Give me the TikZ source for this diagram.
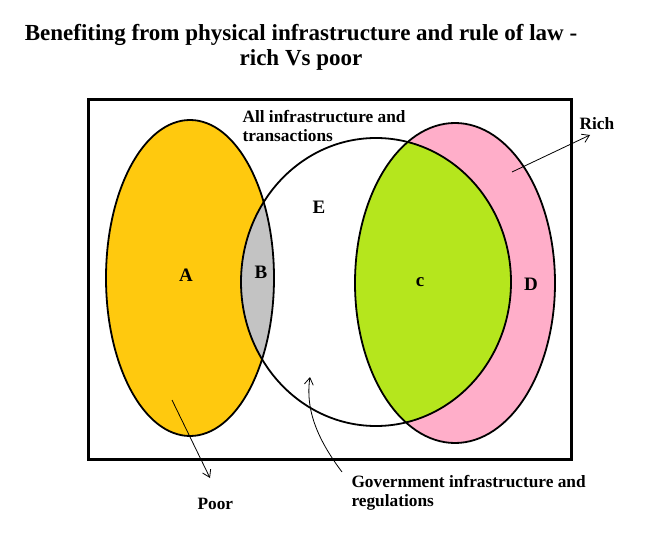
\documentclass[tikz,border=0pt]{standalone}
\usepackage{fontspec}
\setmainfont{Liberation Serif}
\usetikzlibrary{arrows.meta}
\begin{document}
\begin{tikzpicture}[x=1pt,y=-1pt,
  lbl/.style={font=\bfseries\fontsize{19}{22}\selectfont},
  small/.style={font=\bfseries\fontsize{17.3}{19}\selectfont,align=left,anchor=west},
  ol/.style={draw=black,line width=1.8pt},
  arr/.style={-{Straight Barb[length=7pt,width=9pt]},line width=0.8pt}]
\useasboundingbox (0,0) rectangle (659,548);
\definecolor{orng}{HTML}{FFC90E}
\definecolor{pnk}{HTML}{FFAEC9}
\definecolor{grn}{HTML}{B5E61D}
\definecolor{gry}{HTML}{C3C3C3}
\node[font=\bfseries\fontsize{23}{25}\selectfont,align=center] (title) at (301,47) {Benefiting from physical infrastructure and rule of law -\\rich Vs poor};
\node[draw,line width=3pt,minimum width=483pt,minimum height=359pt,inner sep=0] (frame) at (329.5,279.5) {};
\fill[orng] (190,278) ellipse [x radius=84,y radius=158];
\fill[pnk] (455,283) ellipse [x radius=100,y radius=160];
\begin{scope}
\clip (376,282) ellipse [x radius=135,y radius=144];
\fill[grn] (455,283) ellipse [x radius=100,y radius=160];
\fill[gry] (190,278) ellipse [x radius=84,y radius=158];
\end{scope}
\draw[ol] (190,278) ellipse [x radius=84,y radius=158];
\draw[ol] (455,283) ellipse [x radius=100,y radius=160];
\draw[ol] (376,282) ellipse [x radius=135,y radius=144];
\node[lbl] (A) at (186,275) {A};
\node[lbl] (B) at (261,272) {B};
\node[lbl] (C) at (420,282) {c};
\node[lbl] (D) at (531,284) {D};
\node[lbl] (E) at (319,207) {E};
\node[small] (all) at (239,126) {All infrastructure and\\transactions};
\node[small] (rich) at (576,124) {Rich};
\node[small] (poor) at (194,504) {Poor};
\node[small] (gov) at (348,493) {Government infrastructure and\\regulations};
\coordinate (r0) at (512,172);
\coordinate (r1) at (590,135);
\draw[arr] (r0) -- (r1);
\coordinate (p0) at (172,400);
\coordinate (p1) at (210,478);
\draw[arr] (p0) -- (p1);
\coordinate (g0) at (342,472);
\coordinate (g1) at (310,377);
\draw[arr] (g0) .. controls (318,440) and (305,410) .. (g1);
\end{tikzpicture}
\end{document}
